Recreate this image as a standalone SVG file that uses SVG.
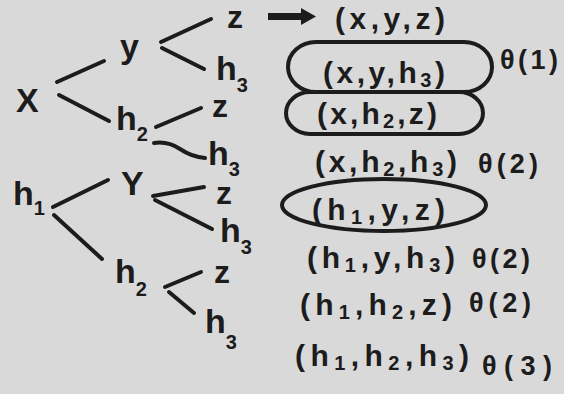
<svg xmlns="http://www.w3.org/2000/svg" width="564" height="394" viewBox="0 0 564 394">
<style>
.bg{fill:#d9d9d9}
.t{font-family:"Liberation Sans","DejaVu Sans",sans-serif;font-weight:bold;fill:#1c1c1c}
.n{font-size:34px}
.nz{font-size:32px}
.tp{font-size:30px}
.th{font-size:27px}
.s{font-size:20px}
.ln{stroke:#1c1c1c;stroke-width:4;stroke-linecap:round;fill:none}
.ring{stroke:#1c1c1c;stroke-width:4;fill:none}
</style>
<rect class="bg" x="0" y="0" width="564" height="394"/>
<g id="connectors">
<line class="ln" x1="57" y1="82" x2="104" y2="61"/>
<line class="ln" x1="59" y1="95" x2="109" y2="121"/>
<line class="ln" x1="161" y1="42" x2="211" y2="19"/>
<line class="ln" x1="162" y1="48" x2="204" y2="69"/>
<line class="ln" x1="156" y1="127" x2="201" y2="108"/>
<path class="ln" d="M154 143 Q168 141 180 149 Q192 157 205 158"/>
<line class="ln" x1="53" y1="207" x2="108" y2="180"/>
<line class="ln" x1="54" y1="215" x2="102" y2="259"/>
<line class="ln" x1="153" y1="196" x2="204" y2="187"/>
<line class="ln" x1="155" y1="200" x2="212" y2="229"/>
<line class="ln" x1="165" y1="287" x2="201" y2="272"/>
<line class="ln" x1="169" y1="292" x2="194" y2="313"/>
<g id="arrow">
<line x1="268" y1="16.5" x2="304" y2="16.5" stroke="#1c1c1c" stroke-width="7"/>
<polygon points="301,8 316,16.5 301,25" fill="#1c1c1c"/>
</g>
</g>
<g id="node-x"><text class="t n" x="16" y="112">X</text></g>
<g id="node-y1"><text class="t n" x="120" y="58">y</text></g>
<g id="node-h2a"><text class="t n" x="116" y="130">h<tspan class="s" dy="11">2</tspan></text></g>
<g id="node-z1"><text class="t nz" x="227" y="28">z</text></g>
<g id="node-h3a"><text class="t n" x="216" y="80">h<tspan class="s" dy="12">3</tspan></text></g>
<g id="node-z2"><text class="t nz" x="212" y="117">z</text></g>
<g id="node-h3b"><text class="t n" x="208" y="165">h<tspan class="s" dy="11">3</tspan></text></g>
<g id="node-h1"><text class="t n" x="13" y="205">h<tspan class="s" dy="10">1</tspan></text></g>
<g id="node-y2"><text class="t n" x="121" y="195">Y</text></g>
<g id="node-z3"><text class="t nz" x="216" y="204">z</text></g>
<g id="node-h3c"><text class="t n" x="220" y="242">h<tspan class="s" dy="12">3</tspan></text></g>
<g id="node-h2b"><text class="t n" x="115" y="283">h<tspan class="s" dy="13">2</tspan></text></g>
<g id="node-z4"><text class="t nz" x="214" y="283">z</text></g>
<g id="node-h3d"><text class="t n" x="205" y="333">h<tspan class="s" dy="16">3</tspan></text></g>
<g id="tuple-xyz"><text class="t tp" x="335" y="29" textLength="110" lengthAdjust="spacing">(x,y,z)</text></g>
<g id="tuple-xyh3">
<rect class="ring" x="288" y="42" width="204" height="50" rx="28" ry="25"/>
<text class="t tp" x="323" y="83" textLength="122" lengthAdjust="spacing">(x,y,h<tspan class="s" dy="4">3</tspan><tspan dy="-4">)</tspan></text>
<text class="t th" x="500" y="69" textLength="58" lengthAdjust="spacing">θ(1)</text>
</g>
<g id="tuple-xh2z">
<rect class="ring" x="286" y="92" width="197" height="42" rx="24" ry="21"/>
<text class="t tp" x="317" y="124" textLength="120" lengthAdjust="spacing">(x,h<tspan class="s" dy="4">2</tspan><tspan dy="-4">,z)</tspan></text>
</g>
<g id="tuple-xh2h3">
<text class="t tp" x="315" y="172" textLength="142" lengthAdjust="spacing">(x,h<tspan class="s" dy="4">2</tspan><tspan dy="-4">,h</tspan><tspan class="s" dy="4">3</tspan><tspan dy="-4">)</tspan></text>
<text class="t th" x="478" y="173" textLength="60" lengthAdjust="spacing">θ(2)</text>
</g>
<g id="tuple-h1yz">
<ellipse class="ring" cx="384" cy="205" rx="102" ry="26"/>
<text class="t tp" x="312" y="220" textLength="133" lengthAdjust="spacing">(h<tspan class="s" dy="4">1</tspan><tspan dy="-4">,y,z)</tspan></text>
</g>
<g id="tuple-h1yh3">
<text class="t tp" x="307" y="268" textLength="148" lengthAdjust="spacing">(h<tspan class="s" dy="4">1</tspan><tspan dy="-4">,y,h</tspan><tspan class="s" dy="4">3</tspan><tspan dy="-4">)</tspan></text>
<text class="t th" x="472" y="268" textLength="58" lengthAdjust="spacing">θ(2)</text>
</g>
<g id="tuple-h1h2z">
<text class="t tp" x="300" y="315" textLength="152" lengthAdjust="spacing">(h<tspan class="s" dy="4">1</tspan><tspan dy="-4">,h</tspan><tspan class="s" dy="4">2</tspan><tspan dy="-4">,z)</tspan></text>
<text class="t th" x="469" y="312" textLength="62" lengthAdjust="spacing">θ(2)</text>
</g>
<g id="tuple-h1h2h3">
<text class="t tp" x="295" y="366" textLength="174" lengthAdjust="spacing">(h<tspan class="s" dy="4">1</tspan><tspan dy="-4">,h</tspan><tspan class="s" dy="4">2</tspan><tspan dy="-4">,h</tspan><tspan class="s" dy="4">3</tspan><tspan dy="-4">)</tspan></text>
<text class="t th" x="482" y="375" textLength="70" lengthAdjust="spacing">θ(3)</text>
</g>
</svg>
